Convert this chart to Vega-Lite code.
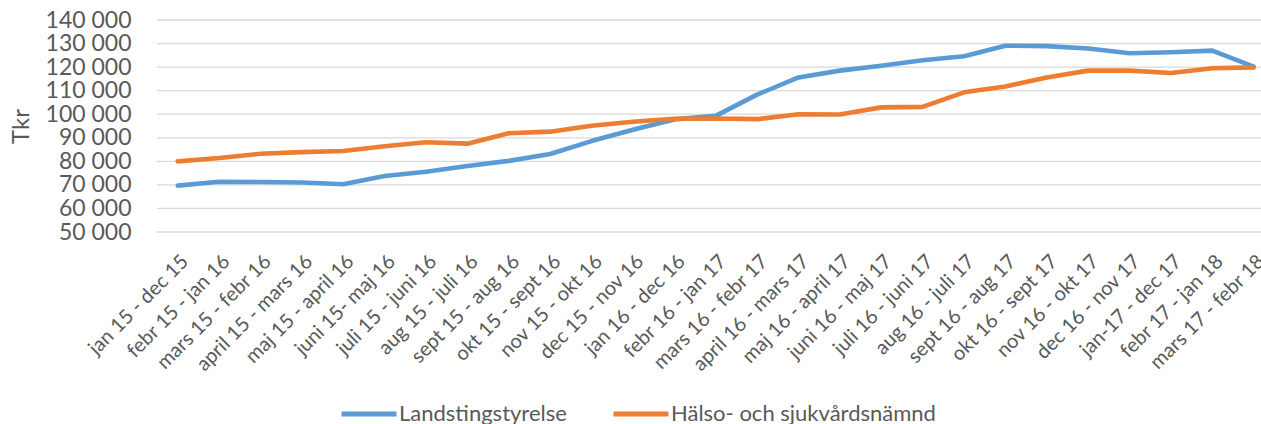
{
  "$schema": "https://vega.github.io/schema/vega-lite/v6.json",
  "autosize": {"type": "none"},
  "padding": {"left": 157, "top": 20, "right": 0, "bottom": 192},
  "width": 1104,
  "height": 212,
  "background": "white",
  "config": {
    "view": {"stroke": null},
    "font": "Lato"
  },
  "datasets": {
    "gridlines": [
      {"level": 50000}, {"level": 60000}, {"level": 70000}, {"level": 80000}, {"level": 90000},
      {"level": 100000}, {"level": 110000}, {"level": 120000}, {"level": 130000}, {"level": 140000}
    ],
    "series": [
      {"period": "jan 15 - dec 15", "series": "Landstingstyrelse", "value": 69700},
      {"period": "febr 15 - jan 16", "series": "Landstingstyrelse", "value": 71300},
      {"period": "mars 15 - febr 16", "series": "Landstingstyrelse", "value": 71200},
      {"period": "april 15 - mars 16", "series": "Landstingstyrelse", "value": 71000},
      {"period": "maj 15 - april 16", "series": "Landstingstyrelse", "value": 70300},
      {"period": "juni 15- maj 16", "series": "Landstingstyrelse", "value": 73800},
      {"period": "juli 15 - juni 16", "series": "Landstingstyrelse", "value": 75600},
      {"period": "aug 15 - juli 16", "series": "Landstingstyrelse", "value": 78000},
      {"period": "sept 15 - aug 16", "series": "Landstingstyrelse", "value": 80200},
      {"period": "okt 15 - sept 16", "series": "Landstingstyrelse", "value": 83100},
      {"period": "nov 15 - okt 16", "series": "Landstingstyrelse", "value": 88600},
      {"period": "dec 15 - nov 16", "series": "Landstingstyrelse", "value": 93400},
      {"period": "jan 16 - dec 16", "series": "Landstingstyrelse", "value": 97800},
      {"period": "febr 16 - jan 17", "series": "Landstingstyrelse", "value": 99300},
      {"period": "mars 16 - febr 17", "series": "Landstingstyrelse", "value": 108300},
      {"period": "april 16 - mars 17", "series": "Landstingstyrelse", "value": 115600},
      {"period": "maj 16 - april 17", "series": "Landstingstyrelse", "value": 118500},
      {"period": "juni 16 - maj 17", "series": "Landstingstyrelse", "value": 120600},
      {"period": "juli 16 - juni 17", "series": "Landstingstyrelse", "value": 122900},
      {"period": "aug 16 - juli 17", "series": "Landstingstyrelse", "value": 124600},
      {"period": "sept 16 - aug 17", "series": "Landstingstyrelse", "value": 129100},
      {"period": "okt 16 - sept 17", "series": "Landstingstyrelse", "value": 128900},
      {"period": "nov 16 - okt 17", "series": "Landstingstyrelse", "value": 127900},
      {"period": "dec 16 - nov 17", "series": "Landstingstyrelse", "value": 125900},
      {"period": "jan-17 - dec 17", "series": "Landstingstyrelse", "value": 126300},
      {"period": "febr 17 - jan 18", "series": "Landstingstyrelse", "value": 127000},
      {"period": "mars 17 - febr 18", "series": "Landstingstyrelse", "value": 120200},
      {"period": "jan 15 - dec 15", "series": "Hälso- och sjukvårdsnämnd", "value": 80000},
      {"period": "febr 15 - jan 16", "series": "Hälso- och sjukvårdsnämnd", "value": 81400},
      {"period": "mars 15 - febr 16", "series": "Hälso- och sjukvårdsnämnd", "value": 83200},
      {"period": "april 15 - mars 16", "series": "Hälso- och sjukvårdsnämnd", "value": 83900},
      {"period": "maj 15 - april 16", "series": "Hälso- och sjukvårdsnämnd", "value": 84400},
      {"period": "juni 15- maj 16", "series": "Hälso- och sjukvårdsnämnd", "value": 86400},
      {"period": "juli 15 - juni 16", "series": "Hälso- och sjukvårdsnämnd", "value": 88100},
      {"period": "aug 15 - juli 16", "series": "Hälso- och sjukvårdsnämnd", "value": 87500},
      {"period": "sept 15 - aug 16", "series": "Hälso- och sjukvårdsnämnd", "value": 91900},
      {"period": "okt 15 - sept 16", "series": "Hälso- och sjukvårdsnämnd", "value": 92600},
      {"period": "nov 15 - okt 16", "series": "Hälso- och sjukvårdsnämnd", "value": 95100},
      {"period": "dec 15 - nov 16", "series": "Hälso- och sjukvårdsnämnd", "value": 96800},
      {"period": "jan 16 - dec 16", "series": "Hälso- och sjukvårdsnämnd", "value": 98100},
      {"period": "febr 16 - jan 17", "series": "Hälso- och sjukvårdsnämnd", "value": 98200},
      {"period": "mars 16 - febr 17", "series": "Hälso- och sjukvårdsnämnd", "value": 97900},
      {"period": "april 16 - mars 17", "series": "Hälso- och sjukvårdsnämnd", "value": 100000},
      {"period": "maj 16 - april 17", "series": "Hälso- och sjukvårdsnämnd", "value": 99900},
      {"period": "juni 16 - maj 17", "series": "Hälso- och sjukvårdsnämnd", "value": 102900},
      {"period": "juli 16 - juni 17", "series": "Hälso- och sjukvårdsnämnd", "value": 103100},
      {"period": "aug 16 - juli 17", "series": "Hälso- och sjukvårdsnämnd", "value": 109300},
      {"period": "sept 16 - aug 17", "series": "Hälso- och sjukvårdsnämnd", "value": 111800},
      {"period": "okt 16 - sept 17", "series": "Hälso- och sjukvårdsnämnd", "value": 115600},
      {"period": "nov 16 - okt 17", "series": "Hälso- och sjukvårdsnämnd", "value": 118500},
      {"period": "dec 16 - nov 17", "series": "Hälso- och sjukvårdsnämnd", "value": 118500},
      {"period": "jan-17 - dec 17", "series": "Hälso- och sjukvårdsnämnd", "value": 117500},
      {"period": "febr 17 - jan 18", "series": "Hälso- och sjukvårdsnämnd", "value": 119500},
      {"period": "mars 17 - febr 18", "series": "Hälso- och sjukvårdsnämnd", "value": 119900}
    ]
  },
  "layer": [
    {
      "data": {"name": "gridlines"},
      "mark": {"type": "rule", "color": "#d9d9d9", "strokeWidth": 1.3},
      "encoding": {
        "y": {
          "field": "level",
          "type": "quantitative",
          "scale": {"domain": [50000, 140000], "nice": false, "zero": false},
          "axis": {
            "title": "Tkr",
            "titleFont": "Lato",
            "titleFontSize": 24,
            "titleFontWeight": "normal",
            "titleColor": "#595959",
            "titlePadding": 12,
            "values": [50000, 60000, 70000, 80000, 90000, 100000, 110000, 120000, 130000, 140000],
            "labelExpr": "replace(format(datum.value, ','), ',', ' ')",
            "labelFont": "Lato",
            "labelFontSize": 23,
            "labelColor": "#595959",
            "labelPadding": 26,
            "labelOverlap": false,
            "labelBound": false,
            "domain": false,
            "ticks": false,
            "grid": false
          }
        }
      }
    },
    {
      "data": {"name": "series"},
      "mark": {"type": "line", "strokeWidth": 4.6, "strokeCap": "round", "strokeJoin": "round"},
      "encoding": {
        "x": {
          "field": "period",
          "type": "ordinal",
          "sort": null,
          "scale": {"type": "point", "range": [20.7, 1096.7], "padding": 0},
          "axis": {
            "title": null,
            "domain": false,
            "ticks": false,
            "grid": false,
            "labelAngle": -45,
            "labelFont": "Lato",
            "labelFontSize": 20,
            "labelColor": "#595959",
            "labelPadding": 19,
            "labelOverlap": false,
            "labelBound": false
          }
        },
        "y": {
          "field": "value",
          "type": "quantitative",
          "scale": {"domain": [50000, 140000], "nice": false, "zero": false},
          "axis": {
            "title": "Tkr",
            "titleFont": "Lato",
            "titleFontSize": 24,
            "titleFontWeight": "normal",
            "titleColor": "#595959",
            "titlePadding": 12,
            "values": [50000, 60000, 70000, 80000, 90000, 100000, 110000, 120000, 130000, 140000],
            "labelExpr": "replace(format(datum.value, ','), ',', ' ')",
            "labelFont": "Lato",
            "labelFontSize": 23,
            "labelColor": "#595959",
            "labelPadding": 26,
            "labelOverlap": false,
            "labelBound": false,
            "domain": false,
            "ticks": false,
            "grid": false
          }
        },
        "color": {
          "field": "series",
          "type": "nominal",
          "scale": {
            "domain": ["Landstingstyrelse", "Hälso- och sjukvårdsnämnd"],
            "range": ["#5B9BD5", "#ED7D31"]
          },
          "legend": {
            "title": null,
            "orient": "none",
            "legendX": 182,
            "legendY": 364,
            "direction": "horizontal",
            "symbolType": "stroke",
            "symbolSize": 3025,
            "symbolStrokeWidth": 5,
            "labelFont": "Lato",
            "labelFontSize": 22,
            "labelColor": "#595959",
            "columnPadding": 36,
            "labelOffset": 0,
            "labelLimit": 400
          }
        }
      }
    }
  ]
}
